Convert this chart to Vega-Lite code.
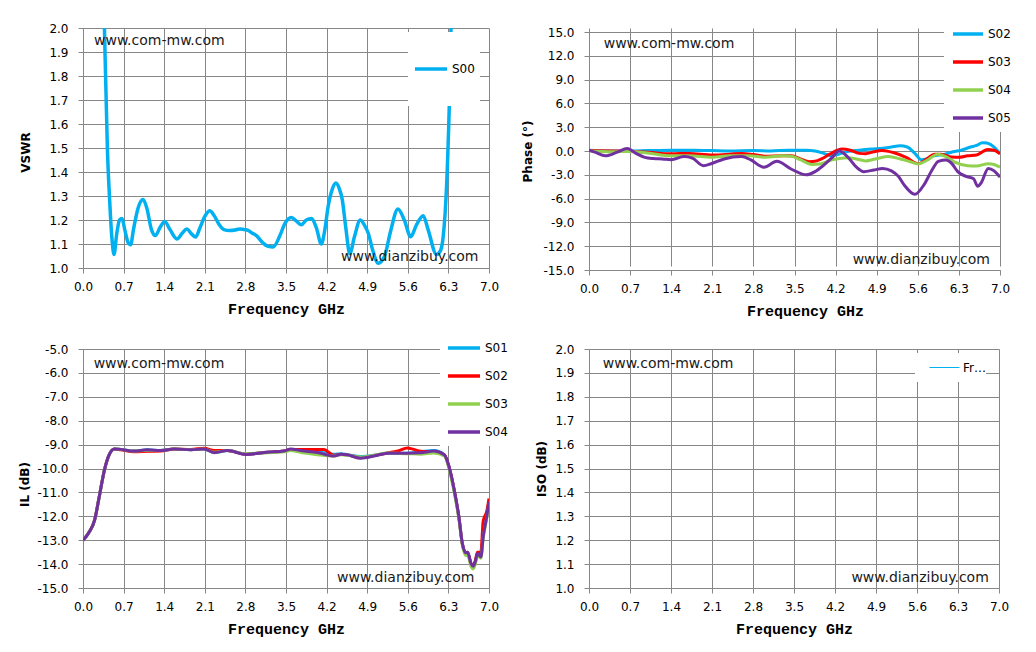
{
  "$schema": "https://vega.github.io/schema/vega-lite/v6.json",
  "padding": {"left": 18, "top": 20, "right": 5, "bottom": 5},
  "background": "white",
  "bounds": "flush",
  "columns": 2,
  "spacing": {"row": 79, "column": 100},
  "resolve": {"scale": {"color": "independent"}, "legend": {"color": "independent"}},
  "config": {
    "view": {"stroke": null},
    "locale": {"number": {"decimal": ".", "thousands": ",", "grouping": [3], "currency": ["$", ""], "minus": "-"}},
    "axis": {
      "grid": true, "gridColor": "#878787", "gridWidth": 1,
      "domainColor": "#878787", "tickColor": "#878787", "tickSize": 5,
      "labelFont": "DejaVu Sans", "labelFontSize": 12, "labelColor": "#000000",
      "labelFlush": false, "labelOverlap": false,
      "titleColor": "#000000"
    },
    "axisX": {"labelPadding": 8, "titleFont": "Liberation Mono", "titleFontWeight": "bold", "titleFontSize": 15, "titlePadding": 9},
    "axisY": {"labelPadding": 10, "titleFont": "DejaVu Sans", "titleFontWeight": "bold", "titleFontSize": 12},
    "legend": {"labelFont": "DejaVu Sans", "labelFontSize": 12, "labelColor": "#000000", "fillColor": "white", "symbolType": "stroke", "labelOffset": 3, "title": null},
    "text": {"font": "DejaVu Sans", "fontSize": 14, "color": "#1a1a1a", "align": "left", "baseline": "middle"}
  },
  "datasets": {
    "vswr": [
      {"s":"S00","f":0.0,"v":9.0},{"s":"S00","f":0.2,"v":4.0},{"s":"S00","f":0.3,"v":2.8},{"s":"S00","f":0.37,"v":2.0},
      {"s":"S00","f":0.42,"v":1.5},{"s":"S00","f":0.46,"v":1.28},{"s":"S00","f":0.5,"v":1.12},{"s":"S00","f":0.535,"v":1.056},
      {"s":"S00","f":0.58,"v":1.14},{"s":"S00","f":0.63,"v":1.2},{"s":"S00","f":0.673,"v":1.206},{"s":"S00","f":0.72,"v":1.16},
      {"s":"S00","f":0.78,"v":1.105},{"s":"S00","f":0.822,"v":1.097},{"s":"S00","f":0.87,"v":1.16},{"s":"S00","f":0.95,"v":1.25},
      {"s":"S00","f":1.035,"v":1.285},{"s":"S00","f":1.1,"v":1.25},{"s":"S00","f":1.18,"v":1.16},{"s":"S00","f":1.248,"v":1.135},
      {"s":"S00","f":1.33,"v":1.17},{"s":"S00","f":1.409,"v":1.194},{"s":"S00","f":1.5,"v":1.16},{"s":"S00","f":1.62,"v":1.121},
      {"s":"S00","f":1.71,"v":1.145},{"s":"S00","f":1.79,"v":1.163},{"s":"S00","f":1.86,"v":1.145},{"s":"S00","f":1.94,"v":1.129},
      {"s":"S00","f":2.02,"v":1.17},{"s":"S00","f":2.1,"v":1.215},{"s":"S00","f":2.185,"v":1.239},{"s":"S00","f":2.27,"v":1.215},
      {"s":"S00","f":2.35,"v":1.18},{"s":"S00","f":2.43,"v":1.16},{"s":"S00","f":2.53,"v":1.156},{"s":"S00","f":2.62,"v":1.158},
      {"s":"S00","f":2.7,"v":1.163},{"s":"S00","f":2.78,"v":1.16},{"s":"S00","f":2.846,"v":1.157},{"s":"S00","f":2.92,"v":1.145},
      {"s":"S00","f":2.99,"v":1.135},{"s":"S00","f":3.1,"v":1.105},{"s":"S00","f":3.19,"v":1.09},{"s":"S00","f":3.28,"v":1.088},
      {"s":"S00","f":3.39,"v":1.132},{"s":"S00","f":3.48,"v":1.185},{"s":"S00","f":3.594,"v":1.21},{"s":"S00","f":3.68,"v":1.195},
      {"s":"S00","f":3.767,"v":1.18},{"s":"S00","f":3.85,"v":1.2},{"s":"S00","f":3.94,"v":1.206},{"s":"S00","f":4.02,"v":1.17},
      {"s":"S00","f":4.11,"v":1.1},{"s":"S00","f":4.17,"v":1.16},{"s":"S00","f":4.227,"v":1.257},{"s":"S00","f":4.3,"v":1.33},
      {"s":"S00","f":4.36,"v":1.354},{"s":"S00","f":4.42,"v":1.33},{"s":"S00","f":4.47,"v":1.285},{"s":"S00","f":4.53,"v":1.17},
      {"s":"S00","f":4.6,"v":1.06},{"s":"S00","f":4.68,"v":1.13},{"s":"S00","f":4.78,"v":1.2},{"s":"S00","f":4.85,"v":1.18},
      {"s":"S00","f":4.917,"v":1.146},{"s":"S00","f":5.0,"v":1.07},{"s":"S00","f":5.09,"v":1.02},{"s":"S00","f":5.2,"v":1.05},
      {"s":"S00","f":5.3,"v":1.15},{"s":"S00","f":5.43,"v":1.246},{"s":"S00","f":5.54,"v":1.2},{"s":"S00","f":5.65,"v":1.13},
      {"s":"S00","f":5.75,"v":1.18},{"s":"S00","f":5.865,"v":1.218},{"s":"S00","f":5.95,"v":1.16},{"s":"S00","f":6.095,"v":1.056},
      {"s":"S00","f":6.16,"v":1.07},{"s":"S00","f":6.21,"v":1.13},{"s":"S00","f":6.27,"v":1.35},{"s":"S00","f":6.315,"v":1.674},
      {"s":"S00","f":6.345,"v":2.0},{"s":"S00","f":6.4,"v":2.6}
    ],
    "phase": [
      {"s":"S02","f":0.0,"v":0.1},{"s":"S02","f":0.3,"v":0.0},{"s":"S02","f":0.7,"v":0.0},{"s":"S02","f":1.0,"v":0.05},
      {"s":"S02","f":1.4,"v":0.1},{"s":"S02","f":1.8,"v":0.1},{"s":"S02","f":2.1,"v":0.05},{"s":"S02","f":2.4,"v":0.0},
      {"s":"S02","f":2.8,"v":0.05},{"s":"S02","f":3.1,"v":0.0},{"s":"S02","f":3.4,"v":0.1},{"s":"S02","f":3.7,"v":0.1},
      {"s":"S02","f":3.85,"v":0.0},{"s":"S02","f":4.0,"v":-0.3},{"s":"S02","f":4.12,"v":-0.6},{"s":"S02","f":4.25,"v":-0.4},
      {"s":"S02","f":4.42,"v":-0.05},{"s":"S02","f":4.6,"v":0.1},{"s":"S02","f":4.82,"v":0.25},{"s":"S02","f":5.0,"v":0.35},
      {"s":"S02","f":5.15,"v":0.5},{"s":"S02","f":5.3,"v":0.65},{"s":"S02","f":5.42,"v":0.5},{"s":"S02","f":5.55,"v":-0.3},
      {"s":"S02","f":5.66,"v":-1.1},{"s":"S02","f":5.75,"v":-1.0},{"s":"S02","f":5.85,"v":-0.65},{"s":"S02","f":6.06,"v":-0.4},
      {"s":"S02","f":6.2,"v":-0.1},{"s":"S02","f":6.34,"v":0.1},{"s":"S02","f":6.5,"v":0.5},{"s":"S02","f":6.6,"v":0.7},
      {"s":"S02","f":6.7,"v":1.05},{"s":"S02","f":6.78,"v":1.0},{"s":"S02","f":6.9,"v":0.5},{"s":"S02","f":7.0,"v":-0.35},
      {"s":"S03","f":0.0,"v":0.05},{"s":"S03","f":0.4,"v":0.0},{"s":"S03","f":0.7,"v":-0.05},{"s":"S03","f":1.0,"v":-0.15},
      {"s":"S03","f":1.4,"v":-0.35},{"s":"S03","f":1.7,"v":-0.3},{"s":"S03","f":2.1,"v":-0.5},{"s":"S03","f":2.4,"v":-0.4},
      {"s":"S03","f":2.6,"v":-0.3},{"s":"S03","f":2.8,"v":-0.45},{"s":"S03","f":3.0,"v":-0.65},{"s":"S03","f":3.3,"v":-0.6},
      {"s":"S03","f":3.45,"v":-0.6},{"s":"S03","f":3.6,"v":-1.0},{"s":"S03","f":3.75,"v":-1.35},{"s":"S03","f":3.85,"v":-1.3},
      {"s":"S03","f":3.97,"v":-0.95},{"s":"S03","f":4.1,"v":-0.4},{"s":"S03","f":4.31,"v":0.25},{"s":"S03","f":4.45,"v":0.1},
      {"s":"S03","f":4.6,"v":-0.3},{"s":"S03","f":4.71,"v":-0.35},{"s":"S03","f":4.85,"v":-0.1},{"s":"S03","f":4.99,"v":0.05},
      {"s":"S03","f":5.1,"v":-0.05},{"s":"S03","f":5.21,"v":-0.25},{"s":"S03","f":5.4,"v":-0.8},{"s":"S03","f":5.61,"v":-1.6},
      {"s":"S03","f":5.75,"v":-1.0},{"s":"S03","f":5.89,"v":-0.4},{"s":"S03","f":6.0,"v":-0.4},{"s":"S03","f":6.17,"v":-0.75},
      {"s":"S03","f":6.3,"v":-0.8},{"s":"S03","f":6.45,"v":-0.6},{"s":"S03","f":6.6,"v":-0.5},{"s":"S03","f":6.79,"v":0.2},
      {"s":"S03","f":6.9,"v":0.1},{"s":"S03","f":7.0,"v":-0.35},
      {"s":"S04","f":0.0,"v":0.0},{"s":"S04","f":0.4,"v":-0.1},{"s":"S04","f":0.7,"v":-0.05},{"s":"S04","f":1.0,"v":-0.25},
      {"s":"S04","f":1.4,"v":-0.6},{"s":"S04","f":1.7,"v":-0.6},{"s":"S04","f":2.1,"v":-0.8},{"s":"S04","f":2.4,"v":-0.6},
      {"s":"S04","f":2.74,"v":-0.6},{"s":"S04","f":3.0,"v":-0.8},{"s":"S04","f":3.3,"v":-0.6},{"s":"S04","f":3.45,"v":-0.65},
      {"s":"S04","f":3.6,"v":-1.1},{"s":"S04","f":3.8,"v":-1.7},{"s":"S04","f":3.95,"v":-1.6},{"s":"S04","f":4.14,"v":-1.1},
      {"s":"S04","f":4.3,"v":-0.9},{"s":"S04","f":4.42,"v":-0.85},{"s":"S04","f":4.55,"v":-1.0},{"s":"S04","f":4.71,"v":-1.25},
      {"s":"S04","f":4.88,"v":-1.0},{"s":"S04","f":5.1,"v":-0.7},{"s":"S04","f":5.3,"v":-1.0},{"s":"S04","f":5.45,"v":-1.3},
      {"s":"S04","f":5.61,"v":-1.65},{"s":"S04","f":5.75,"v":-1.2},{"s":"S04","f":5.94,"v":-0.4},{"s":"S04","f":6.1,"v":-0.8},
      {"s":"S04","f":6.23,"v":-1.4},{"s":"S04","f":6.45,"v":-1.85},{"s":"S04","f":6.6,"v":-1.9},{"s":"S04","f":6.8,"v":-1.6},
      {"s":"S04","f":6.9,"v":-1.7},{"s":"S04","f":7.0,"v":-2.05},
      {"s":"S05","f":0.0,"v":0.1},{"s":"S05","f":0.1,"v":-0.15},{"s":"S05","f":0.28,"v":-0.6},{"s":"S05","f":0.48,"v":-0.15},
      {"s":"S05","f":0.65,"v":0.3},{"s":"S05","f":0.8,"v":-0.3},{"s":"S05","f":0.95,"v":-0.8},{"s":"S05","f":1.1,"v":-0.95},
      {"s":"S05","f":1.25,"v":-1.0},{"s":"S05","f":1.4,"v":-1.1},{"s":"S05","f":1.62,"v":-0.7},{"s":"S05","f":1.76,"v":-0.9},
      {"s":"S05","f":1.95,"v":-1.85},{"s":"S05","f":2.08,"v":-1.6},{"s":"S05","f":2.3,"v":-1.0},{"s":"S05","f":2.6,"v":-0.7},
      {"s":"S05","f":2.75,"v":-1.1},{"s":"S05","f":2.98,"v":-2.05},{"s":"S05","f":3.2,"v":-1.3},{"s":"S05","f":3.45,"v":-2.3},
      {"s":"S05","f":3.7,"v":-3.0},{"s":"S05","f":3.85,"v":-2.6},{"s":"S05","f":3.98,"v":-1.9},{"s":"S05","f":4.13,"v":-0.9},
      {"s":"S05","f":4.26,"v":0.0},{"s":"S05","f":4.4,"v":-0.7},{"s":"S05","f":4.55,"v":-2.0},{"s":"S05","f":4.68,"v":-2.6},
      {"s":"S05","f":4.85,"v":-2.4},{"s":"S05","f":5.0,"v":-2.2},{"s":"S05","f":5.15,"v":-2.5},{"s":"S05","f":5.27,"v":-3.2},
      {"s":"S05","f":5.37,"v":-4.3},{"s":"S05","f":5.55,"v":-5.45},{"s":"S05","f":5.71,"v":-4.2},{"s":"S05","f":5.85,"v":-2.3},
      {"s":"S05","f":5.95,"v":-1.3},{"s":"S05","f":6.08,"v":-1.15},{"s":"S05","f":6.18,"v":-1.6},{"s":"S05","f":6.28,"v":-2.6},
      {"s":"S05","f":6.42,"v":-3.2},{"s":"S05","f":6.55,"v":-3.5},{"s":"S05","f":6.62,"v":-4.45},{"s":"S05","f":6.68,"v":-4.0},
      {"s":"S05","f":6.8,"v":-2.2},{"s":"S05","f":6.9,"v":-2.5},{"s":"S05","f":7.0,"v":-3.3}
    ],
    "il": [
      {"s":"S01","f":0.0,"v":-13.0},{"s":"S01","f":0.11,"v":-12.65},{"s":"S01","f":0.2,"v":-12.16},{"s":"S01","f":0.28,"v":-11.18},
      {"s":"S01","f":0.37,"v":-10.06},{"s":"S01","f":0.45,"v":-9.43},{"s":"S01","f":0.54,"v":-9.18},{"s":"S01","f":0.65,"v":-9.2},
      {"s":"S01","f":0.88,"v":-9.27},{"s":"S01","f":1.11,"v":-9.22},{"s":"S01","f":1.34,"v":-9.25},{"s":"S01","f":1.57,"v":-9.18},
      {"s":"S01","f":1.86,"v":-9.22},{"s":"S01","f":2.09,"v":-9.18},{"s":"S01","f":2.26,"v":-9.32},{"s":"S01","f":2.49,"v":-9.25},
      {"s":"S01","f":2.81,"v":-9.4},{"s":"S01","f":3.18,"v":-9.32},{"s":"S01","f":3.47,"v":-9.27},{"s":"S01","f":3.58,"v":-9.2},
      {"s":"S01","f":3.76,"v":-9.28},{"s":"S01","f":4.04,"v":-9.3},{"s":"S01","f":4.33,"v":-9.4},{"s":"S01","f":4.45,"v":-9.38},
      {"s":"S01","f":4.56,"v":-9.42},{"s":"S01","f":4.79,"v":-9.5},{"s":"S01","f":5.02,"v":-9.45},{"s":"S01","f":5.25,"v":-9.36},
      {"s":"S01","f":5.59,"v":-9.36},{"s":"S01","f":5.82,"v":-9.3},{"s":"S01","f":6.05,"v":-9.25},{"s":"S01","f":6.23,"v":-9.43},
      {"s":"S01","f":6.31,"v":-9.92},{"s":"S01","f":6.4,"v":-10.9},{"s":"S01","f":6.48,"v":-12.02},{"s":"S01","f":6.54,"v":-13.14},
      {"s":"S01","f":6.6,"v":-13.53},{"s":"S01","f":6.63,"v":-13.5},{"s":"S01","f":6.69,"v":-13.98},{"s":"S01","f":6.73,"v":-14.09},
      {"s":"S01","f":6.77,"v":-13.84},{"s":"S01","f":6.8,"v":-13.56},{"s":"S01","f":6.86,"v":-13.65},{"s":"S01","f":6.9,"v":-12.8},
      {"s":"S01","f":6.96,"v":-12.0},{"s":"S01","f":7.0,"v":-11.35},
      {"s":"S02","f":0.0,"v":-13.0},{"s":"S02","f":0.11,"v":-12.65},{"s":"S02","f":0.2,"v":-12.16},{"s":"S02","f":0.28,"v":-11.18},
      {"s":"S02","f":0.37,"v":-10.06},{"s":"S02","f":0.45,"v":-9.43},{"s":"S02","f":0.54,"v":-9.18},{"s":"S02","f":0.65,"v":-9.22},
      {"s":"S02","f":0.88,"v":-9.3},{"s":"S02","f":1.11,"v":-9.28},{"s":"S02","f":1.34,"v":-9.27},{"s":"S02","f":1.57,"v":-9.18},
      {"s":"S02","f":1.86,"v":-9.2},{"s":"S02","f":2.09,"v":-9.15},{"s":"S02","f":2.26,"v":-9.25},{"s":"S02","f":2.49,"v":-9.25},
      {"s":"S02","f":2.81,"v":-9.4},{"s":"S02","f":3.18,"v":-9.32},{"s":"S02","f":3.47,"v":-9.27},{"s":"S02","f":3.58,"v":-9.2},
      {"s":"S02","f":3.76,"v":-9.2},{"s":"S02","f":4.04,"v":-9.2},{"s":"S02","f":4.15,"v":-9.2},{"s":"S02","f":4.33,"v":-9.45},
      {"s":"S02","f":4.45,"v":-9.4},{"s":"S02","f":4.56,"v":-9.43},{"s":"S02","f":4.79,"v":-9.55},{"s":"S02","f":5.02,"v":-9.46},
      {"s":"S02","f":5.25,"v":-9.35},{"s":"S02","f":5.45,"v":-9.25},{"s":"S02","f":5.59,"v":-9.14},{"s":"S02","f":5.7,"v":-9.2},
      {"s":"S02","f":5.82,"v":-9.28},{"s":"S02","f":6.05,"v":-9.3},{"s":"S02","f":6.23,"v":-9.43},{"s":"S02","f":6.31,"v":-9.92},
      {"s":"S02","f":6.4,"v":-10.9},{"s":"S02","f":6.48,"v":-12.02},{"s":"S02","f":6.54,"v":-13.14},{"s":"S02","f":6.6,"v":-13.53},
      {"s":"S02","f":6.63,"v":-13.5},{"s":"S02","f":6.69,"v":-13.98},{"s":"S02","f":6.73,"v":-14.05},{"s":"S02","f":6.77,"v":-13.8},
      {"s":"S02","f":6.8,"v":-13.5},{"s":"S02","f":6.86,"v":-13.5},{"s":"S02","f":6.9,"v":-12.2},{"s":"S02","f":6.96,"v":-11.8},
      {"s":"S02","f":7.0,"v":-11.25},
      {"s":"S03","f":0.0,"v":-13.0},{"s":"S03","f":0.11,"v":-12.65},{"s":"S03","f":0.2,"v":-12.16},{"s":"S03","f":0.28,"v":-11.18},
      {"s":"S03","f":0.37,"v":-10.06},{"s":"S03","f":0.45,"v":-9.43},{"s":"S03","f":0.54,"v":-9.18},{"s":"S03","f":0.65,"v":-9.2},
      {"s":"S03","f":0.88,"v":-9.27},{"s":"S03","f":1.11,"v":-9.24},{"s":"S03","f":1.34,"v":-9.25},{"s":"S03","f":1.57,"v":-9.18},
      {"s":"S03","f":1.86,"v":-9.22},{"s":"S03","f":2.09,"v":-9.18},{"s":"S03","f":2.26,"v":-9.32},{"s":"S03","f":2.49,"v":-9.25},
      {"s":"S03","f":2.81,"v":-9.38},{"s":"S03","f":3.18,"v":-9.34},{"s":"S03","f":3.47,"v":-9.3},{"s":"S03","f":3.58,"v":-9.25},
      {"s":"S03","f":3.76,"v":-9.33},{"s":"S03","f":4.04,"v":-9.42},{"s":"S03","f":4.33,"v":-9.48},{"s":"S03","f":4.45,"v":-9.42},
      {"s":"S03","f":4.56,"v":-9.45},{"s":"S03","f":4.79,"v":-9.52},{"s":"S03","f":5.02,"v":-9.45},{"s":"S03","f":5.25,"v":-9.35},
      {"s":"S03","f":5.59,"v":-9.38},{"s":"S03","f":5.82,"v":-9.4},{"s":"S03","f":6.05,"v":-9.35},{"s":"S03","f":6.23,"v":-9.48},
      {"s":"S03","f":6.31,"v":-10.0},{"s":"S03","f":6.4,"v":-11.0},{"s":"S03","f":6.48,"v":-12.1},{"s":"S03","f":6.54,"v":-13.2},
      {"s":"S03","f":6.6,"v":-13.65},{"s":"S03","f":6.63,"v":-13.6},{"s":"S03","f":6.69,"v":-14.1},{"s":"S03","f":6.73,"v":-14.2},
      {"s":"S03","f":6.77,"v":-13.95},{"s":"S03","f":6.8,"v":-13.65},{"s":"S03","f":6.86,"v":-13.75},{"s":"S03","f":6.9,"v":-12.9},
      {"s":"S03","f":6.96,"v":-12.1},{"s":"S03","f":7.0,"v":-11.45},
      {"s":"S04","f":0.0,"v":-13.0},{"s":"S04","f":0.11,"v":-12.65},{"s":"S04","f":0.2,"v":-12.16},{"s":"S04","f":0.28,"v":-11.18},
      {"s":"S04","f":0.37,"v":-10.06},{"s":"S04","f":0.45,"v":-9.43},{"s":"S04","f":0.54,"v":-9.18},{"s":"S04","f":0.65,"v":-9.2},
      {"s":"S04","f":0.88,"v":-9.27},{"s":"S04","f":1.11,"v":-9.22},{"s":"S04","f":1.34,"v":-9.25},{"s":"S04","f":1.57,"v":-9.18},
      {"s":"S04","f":1.86,"v":-9.22},{"s":"S04","f":2.09,"v":-9.18},{"s":"S04","f":2.26,"v":-9.34},{"s":"S04","f":2.49,"v":-9.25},
      {"s":"S04","f":2.81,"v":-9.41},{"s":"S04","f":3.18,"v":-9.32},{"s":"S04","f":3.47,"v":-9.27},{"s":"S04","f":3.58,"v":-9.18},
      {"s":"S04","f":3.76,"v":-9.25},{"s":"S04","f":4.04,"v":-9.33},{"s":"S04","f":4.33,"v":-9.48},{"s":"S04","f":4.45,"v":-9.4},
      {"s":"S04","f":4.56,"v":-9.43},{"s":"S04","f":4.79,"v":-9.57},{"s":"S04","f":5.02,"v":-9.48},{"s":"S04","f":5.25,"v":-9.36},
      {"s":"S04","f":5.59,"v":-9.36},{"s":"S04","f":5.82,"v":-9.34},{"s":"S04","f":6.05,"v":-9.27},{"s":"S04","f":6.23,"v":-9.43},
      {"s":"S04","f":6.31,"v":-9.92},{"s":"S04","f":6.4,"v":-10.9},{"s":"S04","f":6.48,"v":-12.02},{"s":"S04","f":6.54,"v":-13.14},
      {"s":"S04","f":6.6,"v":-13.53},{"s":"S04","f":6.63,"v":-13.5},{"s":"S04","f":6.69,"v":-13.98},{"s":"S04","f":6.73,"v":-14.09},
      {"s":"S04","f":6.77,"v":-13.84},{"s":"S04","f":6.8,"v":-13.56},{"s":"S04","f":6.86,"v":-13.7},{"s":"S04","f":6.9,"v":-12.86},
      {"s":"S04","f":6.96,"v":-12.02},{"s":"S04","f":7.0,"v":-11.39}
    ],
    "iso": [{"s":"Frequency GHz","f":null,"v":null}]
  },
  "concat": [
    {
      "width": 406, "height": 240,
      "encoding": {
        "x": {"field": "f", "type": "quantitative", "scale": {"domain": [0, 7], "nice": false},
              "axis": {"title": "Frequency GHz", "values": [0,0.7,1.4,2.1,2.8,3.5,4.2,4.9,5.6,6.3,7.0], "format": ".1f"}},
        "y": {"field": "v", "type": "quantitative", "scale": {"domain": [1, 2], "nice": false, "zero": false},
              "axis": {"title": "VSWR", "values": [1.0,1.1,1.2,1.3,1.4,1.5,1.6,1.7,1.8,1.9,2.0], "format": ".1f", "titlePadding": 16, "titleY": 124}}
      },
      "layer": [
        {
          "data": {"name": "vswr"},
          "mark": {"type": "line", "interpolate": "monotone", "strokeWidth": 3.5, "clip": true},
          "encoding": {
            "color": {"field": "s", "type": "nominal", "scale": {"domain": ["S00"], "range": ["#00B0F0"]},
                      "legend": {"orient": "none", "legendX": 325, "legendY": 4, "padding": 5, "clipHeight": 64, "symbolSize": 1024, "symbolStrokeWidth": 3.5}}
          }
        },
        {
          "data": {"values": [{"t": "www.com-mw.com", "f": 0.19, "v": 1.944}, {"t": "www.dianzibuy.com", "f": 4.45, "v": 1.047}]},
          "mark": {"type": "text"},
          "encoding": {"text": {"field": "t"}}
        }
      ]
    },
    {
      "width": 411, "height": 242,
      "encoding": {
        "x": {"field": "f", "type": "quantitative", "scale": {"domain": [0, 7], "nice": false},
              "axis": {"title": "Frequency GHz", "values": [0,0.7,1.4,2.1,2.8,3.5,4.2,4.9,5.6,6.3,7.0], "format": ".1f", "titleX": 216}},
        "y": {"field": "v", "type": "quantitative", "scale": {"domain": [-15, 15], "nice": false, "range": [242, 4]},
              "axis": {"title": "Phase (°)", "values": [-15,-12,-9,-6,-3,0,3,6,9,12,15], "format": ".1f", "titlePadding": 8, "titleY": 123}}
      },
      "layer": [
        {
          "data": {"name": "phase"},
          "mark": {"type": "line", "interpolate": "monotone", "strokeWidth": 3, "clip": true},
          "encoding": {
            "color": {"field": "s", "type": "nominal", "scale": {"domain": ["S02","S03","S04","S05"], "range": ["#00B0F0","#FF0000","#92D050","#7030A0"]},
                      "legend": {"orient": "none", "legendX": 355, "legendY": -8, "padding": 0, "clipHeight": 28, "rowPadding": 0, "symbolOffset": 7, "symbolSize": 900, "symbolStrokeWidth": 3.5}}
          }
        },
        {
          "data": {"values": [{"t": "www.com-mw.com", "f": 0.25, "v": 13.49}, {"t": "www.dianzibuy.com", "f": 4.49, "v": -13.75}]},
          "mark": {"type": "text"},
          "encoding": {"text": {"field": "t"}}
        }
      ]
    },
    {
      "width": 406, "height": 239,
      "encoding": {
        "x": {"field": "f", "type": "quantitative", "scale": {"domain": [0, 7], "nice": false},
              "axis": {"title": "Frequency GHz", "values": [0,0.7,1.4,2.1,2.8,3.5,4.2,4.9,5.6,6.3,7.0], "format": ".1f"}},
        "y": {"field": "v", "type": "quantitative", "scale": {"domain": [-15, -5], "nice": false, "zero": false},
              "axis": {"title": "IL (dB)", "values": [-15,-14,-13,-12,-11,-10,-9,-8,-7,-6,-5], "format": ".1f", "titlePadding": 5, "titleY": 135}}
      },
      "layer": [
        {
          "data": {"name": "il"},
          "mark": {"type": "line", "interpolate": "monotone", "strokeWidth": 3, "clip": true},
          "encoding": {
            "color": {"field": "s", "type": "nominal", "scale": {"domain": ["S01","S02","S03","S04"], "range": ["#00B0F0","#FF0000","#92D050","#7030A0"]},
                      "legend": {"orient": "none", "legendX": 357, "legendY": -15, "padding": 0, "clipHeight": 28, "rowPadding": 0, "symbolOffset": 6, "symbolSize": 1024, "symbolStrokeWidth": 3.5}}
          }
        },
        {
          "data": {"values": [{"t": "www.com-mw.com", "f": 0.184, "v": -5.64}, {"t": "www.dianzibuy.com", "f": 4.38, "v": -14.59}]},
          "mark": {"type": "text"},
          "encoding": {"text": {"field": "t"}}
        }
      ]
    },
    {
      "width": 410, "height": 239,
      "encoding": {
        "x": {"field": "f", "type": "quantitative", "scale": {"domain": [0, 7], "nice": false},
              "axis": {"title": "Frequency GHz", "values": [0,0.7,1.4,2.1,2.8,3.5,4.2,4.9,5.6,6.3,7.0], "format": ".1f"}},
        "y": {"field": "v", "type": "quantitative", "scale": {"domain": [1, 2], "nice": false, "zero": false},
              "axis": {"title": "ISO (dB)", "values": [1.0,1.1,1.2,1.3,1.4,1.5,1.6,1.7,1.8,1.9,2.0], "format": ".1f", "titlePadding": 6}}
      },
      "layer": [
        {
          "data": {"name": "iso"},
          "mark": {"type": "line", "strokeWidth": 1, "clip": true},
          "encoding": {
            "color": {"field": "s", "type": "nominal", "scale": {"domain": ["Frequency GHz"], "range": ["#00B0F0"]},
                      "legend": {"orient": "none", "legendX": 326, "legendY": 4, "padding": 0, "clipHeight": 29, "symbolOffset": 14, "symbolSize": 900, "symbolStrokeWidth": 1, "labelLimit": 25}}
          }
        },
        {
          "data": {"values": [{"t": "www.com-mw.com", "f": 0.235, "v": 1.936}, {"t": "www.dianzibuy.com", "f": 4.48, "v": 1.041}]},
          "mark": {"type": "text"},
          "encoding": {"text": {"field": "t"}}
        }
      ]
    }
  ]
}
